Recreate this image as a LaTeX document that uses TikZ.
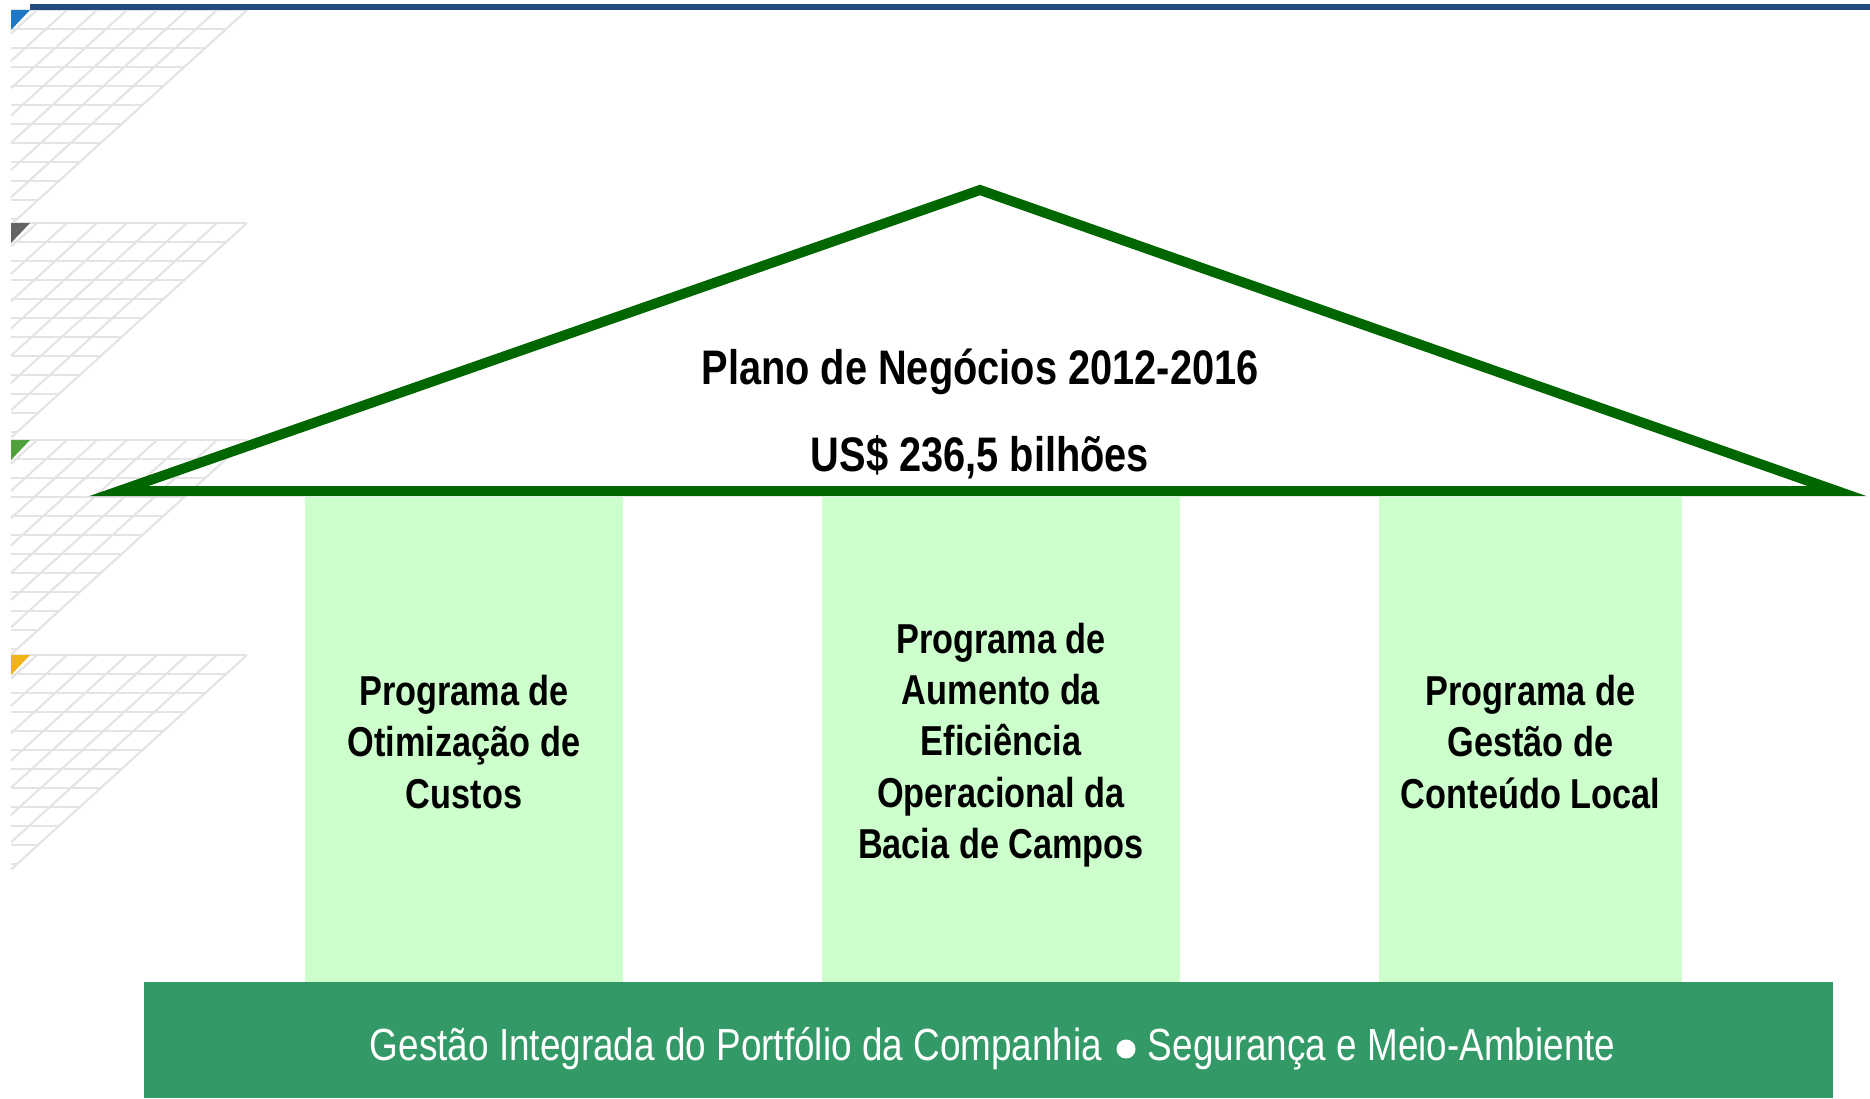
\documentclass[tikz,border=0pt]{standalone}
\usepackage{fontspec}
\setmainfont[FakeStretch=0.82]{Liberation Sans}
\usepackage{xcolor}
\usetikzlibrary{positioning}

\definecolor{roofgreen}{RGB}{0,102,0}
\definecolor{pillargreen}{RGB}{204,255,204}
\definecolor{basegreen}{RGB}{51,153,102}
\definecolor{topblue}{RGB}{35,74,125}
\definecolor{gridgray}{RGB}{228,228,228}
\definecolor{tipblue}{RGB}{30,120,200}
\definecolor{tipgray}{RGB}{100,100,100}
\definecolor{tipgreen}{RGB}{80,160,60}
\definecolor{tipgold}{RGB}{240,180,20}

\tikzset{
  gridline/.style={gridgray, line width=0.22mm},
  roof/.style={roofgreen, line width=1mm, line join=miter},
  pillartext/.style={inner sep=0, align=center, font=\bfseries\fontsize{11.9}{14.6}\selectfont},
  titletext/.style={anchor=base, inner sep=0, font=\bfseries\fontsize{13.8}{17}\selectfont},
  basetext/.style={inner sep=0, text=white, font=\fontsize{12.8}{15}\selectfont},
}

\begin{document}
\begin{tikzpicture}[x=0.1mm, y=-0.1mm]
\useasboundingbox (0,0) rectangle (1870,1098);

% faint grid blocks on the left
\foreach \top/\tip in {10/tipblue, 223/tipgray, 440/tipgreen, 655/tipgold} {
  \foreach \k in {0,...,11}
    \draw[gridline] (11,{\top+\k*19}) -- ({247-1.1*\k*19},{\top+\k*19});
  \foreach \k in {0,...,7}
    \draw[gridline] ({247-\k*30},\top) -- (11,{\top+(236-\k*30)/1.1});
  \fill[\tip] (11,\top) -- (30,\top) -- (11,{\top+20}) -- cycle;
}
\fill[topblue] (30,4) rectangle (1870,10);

% pillars
\fill[pillargreen] (305,497) rectangle (623,984);
\fill[pillargreen] (822,497) rectangle (1180,984);
\fill[pillargreen] (1379,497) rectangle (1682,984);
\node[pillartext] (costs) at (464,742) {Programa de\\Otimização de\\Custos};
\node[pillartext] (campos) at (1001,745) {Programa de\\Aumento da\\Eficiência\\Operacional da\\Bacia de Campos};
\node[pillartext] (local) at (1530.5,742) {Programa de\\Gestão de\\Conteúdo Local};

% base
\node[fill=basegreen, minimum width=168.9mm, minimum height=11.6mm, inner sep=0] (base) at (988.5,1040) {};
\node[circle, fill=white, minimum size=1.9mm, inner sep=0] (dot) at (1126,1049) {};
\node[basetext, left=1.3mm of dot] (portfolio) {Gestão Integrada do Portfólio da Companhia};
\node[basetext, right=1.1mm of dot] (safety) {Segurança e Meio-Ambiente};

% roof
\coordinate (eaveW) at (119,491);
\coordinate (ridge) at (980,190);
\coordinate (eaveE) at (1837,491);
\draw[roof] (eaveW) -- (ridge) -- (eaveE) -- cycle;
\node[titletext] (plan) at (980,384) {Plano de Negócios 2012-2016};
\node[titletext] (budget) at (980,471) {US\$ 236,5 bilhões};
\end{tikzpicture}
\end{document}
